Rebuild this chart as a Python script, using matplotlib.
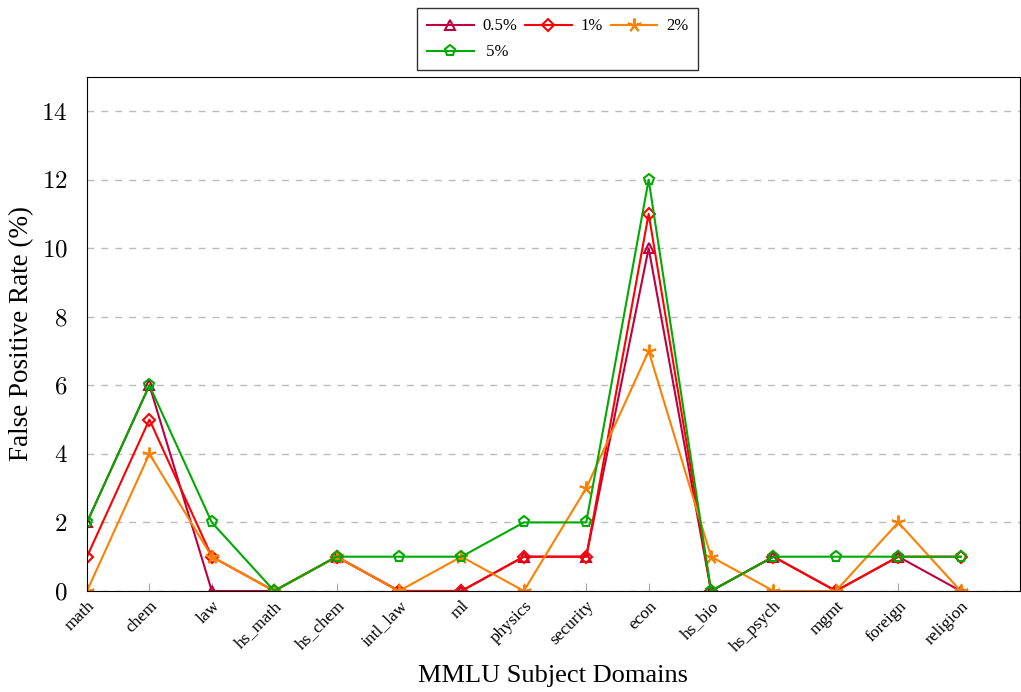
import matplotlib.pyplot as plt

plt.rcParams['mathtext.fontset'] = 'cm'
plt.rcParams['font.family'] = ['Liberation Serif', 'DejaVu Serif']

domains = ["math", "chem", "law", "hs_math", "hs_chem", "intl_law", "ml", "physics",
           "security", "econ", "hs_bio", "hs_psych", "mgmt", "foreign", "religion"]
fpr_05 = [2, 6, 0, 0, 1, 0, 0, 1, 1, 10, 0, 1, 0, 1, 0]
fpr_1 = [1, 5, 1, 0, 1, 0, 0, 1, 1, 11, 0, 1, 0, 1, 1]
fpr_2 = [0, 4, 1, 0, 1, 0, 1, 0, 3, 7, 1, 0, 0, 2, 0]
fpr_5 = [2, 6, 2, 0, 1, 1, 1, 2, 2, 12, 0, 1, 1, 1, 1]
y_ticks = [0, 2, 4, 6, 8, 10, 12, 14]

fig = plt.figure(figsize=(10.21, 6.92), dpi=100)
ax = fig.add_axes([0.0852, 0.146, 0.9138, 0.743])

x = list(range(len(domains)))
h05, = ax.plot(x, fpr_05, color="#BF0040", lw=1.5, marker="^", ms=7, mfc="none", mew=1.5, label="0.5%")
h1, = ax.plot(x, fpr_1, color="#FF0000", lw=1.5, marker="D", ms=6, mfc="none", mew=1.5, label="1%")
h2, = ax.plot(x, fpr_2, color="#FF8000", lw=1.5, marker=(5, 2, 0), ms=10, mew=1.4, label="2%")
h5, = ax.plot(x, fpr_5, color="#00AA00", lw=1.5, marker="p", ms=8, mfc="none", mew=1.5, label="5%")

ax.set_xlim(0, 14.95)
ax.set_ylim(0, 15)
ax.set_xticks(x)
ax.set_xticklabels(domains, rotation=45, ha="right", rotation_mode="anchor", fontsize=12.5)
ax.set_yticks(y_ticks)
ax.set_yticklabels([f"${v}$" for v in y_ticks], fontsize=18)
ax.tick_params(axis="x", direction="in", length=6, color="#aaaaaa", pad=5)
ax.tick_params(axis="y", direction="in", length=0, pad=14)
ax.grid(axis="y", linestyle=(0, (5, 5)), color="#bbbbbb", lw=1)
ax.set_axisbelow(True)

ax.set_ylabel("False Positive Rate (%)", fontsize=19.5, labelpad=5)
ax.set_xlabel("MMLU Subject Domains", fontsize=19, va="center")
ax.xaxis.set_label_coords(0.5, -0.165)

# legend filled column-wise, so order handles to read row by row
leg = fig.legend([h05, h5, h1, h2], ["0.5%", " 5%", "1%", "2%"],
                 loc="upper center", bbox_to_anchor=(0.546, 1.0), ncol=3, fontsize=12,
                 frameon=True, fancybox=False, edgecolor="black", handlelength=2.8,
                 handletextpad=0.5, columnspacing=0.5, borderpad=0.6, labelspacing=0.6)
leg.get_frame().set_linewidth(1.0)

fig.savefig("out.png", dpi=100)
